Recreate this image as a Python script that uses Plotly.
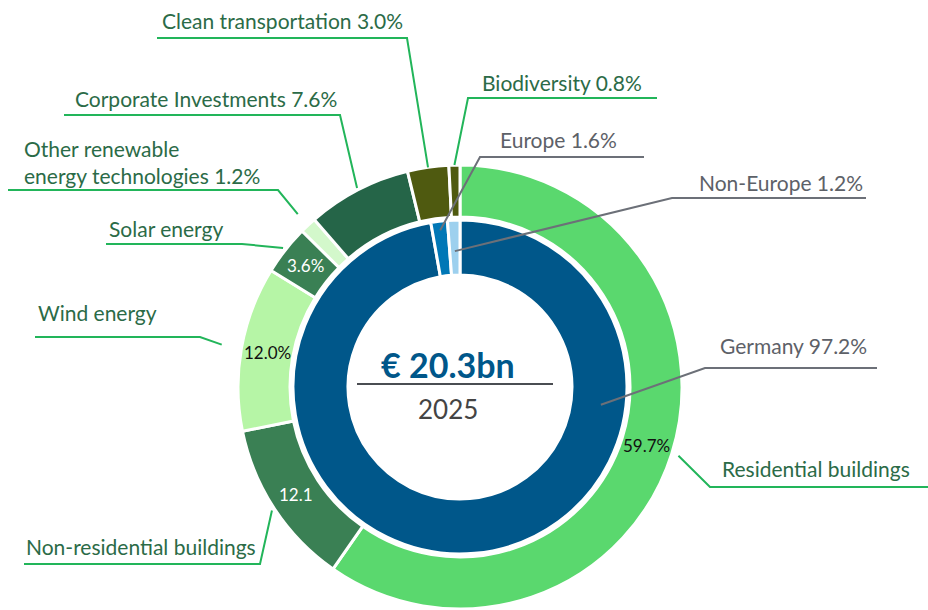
import math
import plotly.graph_objects as go

# ---------------- data ----------------
outer_labels = ["Residential buildings", "Non-residential buildings", "Wind energy",
                "Solar energy", "Other renewable energy technologies",
                "Corporate Investments", "Clean transportation", "Biodiversity"]
outer_values = [59.7, 12.1, 12.0, 3.6, 1.2, 7.6, 3.0, 0.8]
outer_colors = ["#5ad86e", "#3a8054", "#b6f5a6", "#3a8054", "#d3f8cb",
                "#256548", "#4f5a10", "#4f5a10"]
outer_inside_text = ["59.7%", "12.1", "12.0%", "3.6%", "", "", "", ""]
outer_inside_color = ["#111111", "#ffffff", "#111111", "#ffffff", "#111111",
                      "#ffffff", "#ffffff", "#ffffff"]

inner_labels = ["Germany", "Europe", "Non-Europe"]
inner_values = [97.2, 1.6, 1.2]
inner_colors = ["#00578a", "#0077b6", "#9dd0ee"]

total_text = "€ 20.3bn"
year_text = "2025"

# ---------------- layout geometry (pixels) ----------------
W, H = 928, 610
CX, CY = 460, 387
R_OUT, R_OUT_HOLE = 222, 170
R_IN, R_IN_HOLE = 167, 112

GREEN_TXT = "#2b6b47"
GREEN_LINE = "#22b55a"
GRAY_TXT = "#5d6168"
GRAY_LINE = "#6c7078"
FONT = "Lato"


def px(x):
    return x / W


def py(y):
    return 1 - y / H


def mid_fraction(values, i):
    tot = sum(values)
    return (sum(values[:i]) + values[i] / 2) / tot


def polar(frac, r):
    t = 2 * math.pi * frac
    return CX + r * math.sin(t), CY - r * math.cos(t)


fig = go.Figure()

fig.add_trace(go.Pie(
    labels=outer_labels, values=outer_values, sort=False, direction="clockwise",
    rotation=0, hole=R_OUT_HOLE / R_OUT,
    marker=dict(colors=outer_colors, line=dict(color="white", width=3)),
    textinfo="none", hoverinfo="skip", showlegend=False,
    domain=dict(x=[px(CX - R_OUT), px(CX + R_OUT)], y=[py(CY + R_OUT), py(CY - R_OUT)]),
))
fig.add_trace(go.Pie(
    labels=inner_labels, values=inner_values, sort=False, direction="clockwise",
    rotation=0, hole=R_IN_HOLE / R_IN,
    marker=dict(colors=inner_colors, line=dict(color="white", width=3)),
    textinfo="none", hoverinfo="skip", showlegend=False,
    domain=dict(x=[px(CX - R_IN), px(CX + R_IN)], y=[py(CY + R_IN), py(CY - R_IN)]),
))

annotations = []
shapes = []

# inside value texts on the outer ring
r_mid = (R_OUT + R_OUT_HOLE) / 2
for i, t in enumerate(outer_inside_text):
    if not t:
        continue
    x, y = polar(mid_fraction(outer_values, i), r_mid)
    annotations.append(dict(x=px(x), y=py(y), xref="paper", yref="paper", text=t,
                            xanchor="center", yanchor="middle",
                            showarrow=False, font=dict(family=FONT, size=17,
                                                       color=outer_inside_color[i])))

# callouts: (text, text_left_x, text_center_y, line_end_x, elbow_x, elbow_y, anchor_frac, anchor_r)
outer_callouts = [
    (f"{outer_labels[0]}", 720, 468, 928, 710, 487, mid_fraction(outer_values, 0), 229),
    (f"{outer_labels[1]}", 24, 546, 24, 260, 564, mid_fraction(outer_values, 1), 225),
    (f"{outer_labels[2]}", 36, 313, 35, 200, 337, mid_fraction(outer_values, 2), 242),
    (f"{outer_labels[3]}", 107, 228, 106, 242, 244, mid_fraction(outer_values, 3), 225),
    (f"Other renewable<br>energy technologies {outer_values[4]:.1f}%", 22, 162, 8, 278, 190,
     mid_fraction(outer_values, 4), 237),
    (f"{outer_labels[5]} {outer_values[5]:.1f}%", 73, 98, 64, 340, 115, mid_fraction(outer_values, 5), 224),
    (f"{outer_labels[6]} {outer_values[6]:.1f}%", 160, 20, 157, 407, 38, mid_fraction(outer_values, 6), 222),
    (f"{outer_labels[7]} {outer_values[7]:.1f}%", 480, 82, 657, 468, 98, mid_fraction(outer_values, 7), 222),
]
inner_callouts = [
    (f"{inner_labels[0]} {inner_values[0]:.1f}%", 718, 345, 877, 705, 368, 0.27, 142),
    (f"{inner_labels[1]} {inner_values[1]:.1f}%", 498, 139, 644, 480, 157, mid_fraction(inner_values, 1), 158),
    (f"{inner_labels[2]} {inner_values[2]:.1f}%", 697, 182, 866, 672, 198, mid_fraction(inner_values, 2), 136),
]

for group, tcol, lcol in ((outer_callouts, GREEN_TXT, GREEN_LINE),
                          (inner_callouts, GRAY_TXT, GRAY_LINE)):
    for text, tx, ty, ex, bx, by, frac, r in group:
        ax, ay = polar(frac, r)
        path = f"M {px(ex)} {py(by)} L {px(bx)} {py(by)} L {px(ax)} {py(ay)}"
        shapes.append(dict(type="path", path=path, xref="paper", yref="paper",
                           line=dict(color=lcol, width=2)))
        annotations.append(dict(x=px(tx), y=py(ty), xref="paper", yref="paper", text=text,
                                showarrow=False, xanchor="left", yanchor="middle", align="left",
                                font=dict(family=FONT, size=21, color=tcol)))

# centre text
annotations.append(dict(x=px(448), y=py(364), xref="paper", yref="paper",
                        text=f"<b>{total_text}</b>", showarrow=False,
                        xanchor="center", yanchor="middle",
                        font=dict(family=FONT, size=34, color="#00578a")))
annotations.append(dict(x=px(448), y=py(409), xref="paper", yref="paper",
                        text=year_text, showarrow=False,
                        xanchor="center", yanchor="middle",
                        font=dict(family=FONT, size=26, color="#444444")))
shapes.append(dict(type="line", xref="paper", yref="paper", x0=px(357), x1=px(553),
                   y0=py(384), y1=py(384), line=dict(color="#4a4d52", width=2)))

fig.update_layout(
    width=W, height=H, margin=dict(l=0, r=0, t=0, b=0),
    paper_bgcolor="white", plot_bgcolor="white",
    annotations=annotations, shapes=shapes,
)

fig.write_html("out.html", config={"displayModeBar": False},
               post_script="document.body.style.margin='0';")
